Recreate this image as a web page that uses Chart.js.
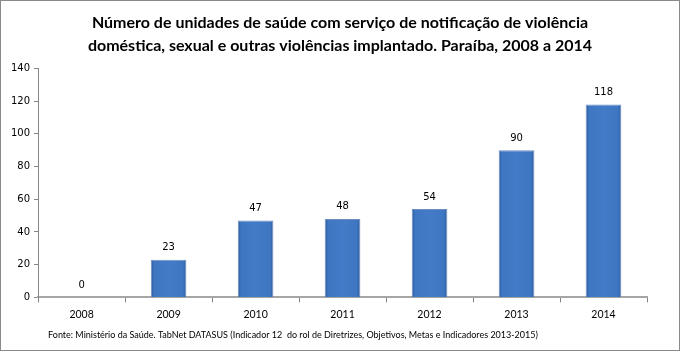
<!DOCTYPE html>
<html>
<head>
<meta charset="utf-8">
<script src="https://cdn.jsdelivr.net/npm/chart.js@4/dist/chart.umd.min.js"></script>
<style>
  html, body { margin: 0; padding: 0; background: #fff; }
  #frame { width: 678px; height: 349px; border: 1px solid #8a8a8a; position: relative; }
  canvas { display: block; }
</style>
</head>
<body>
<div id="frame"><canvas id="chart" width="678" height="349"></canvas></div>
<script>
const years = ['2008', '2009', '2010', '2011', '2012', '2013', '2014'];
const unidades = [0, 23, 47, 48, 54, 90, 118];
const titleLines = [
  'Número de unidades de saúde com serviço de notificação de violência',
  'doméstica, sexual e outras violências implantado. Paraíba, 2008 a 2014'
];
const fonte = 'Fonte: Ministério da Saúde. TabNet DATASUS (Indicador 12  do rol de Diretrizes, Objetivos, Metas e Indicadores 2013-2015)';

// bevel-ish horizontal gradient for each bar
function barFill(ctx) {
  const chart = ctx.chart;
  const x = chart.scales.x;
  if (!chart.chartArea || !x || ctx.dataIndex === undefined) return '#4279c6';
  const cx = x.getPixelForValue(ctx.dataIndex);
  if (!isFinite(cx)) return '#4279c6';
  const half = 18;
  const g = chart.ctx.createLinearGradient(cx - half, 0, cx + half, 0);
  g.addColorStop(0, '#2a5896');
  g.addColorStop(0.1, '#3f76c2');
  g.addColorStop(0.5, '#447bc8');
  g.addColorStop(0.9, '#3f76c2');
  g.addColorStop(1, '#2a5896');
  return g;
}

const valueLabels = {
  id: 'valueLabels',
  afterDatasetsDraw(chart) {
    const c = chart.ctx;
    const meta = chart.getDatasetMeta(0);
    c.save();
    c.font = '10px "DejaVu Sans"';
    c.fillStyle = '#000';
    c.textAlign = 'center';
    c.textBaseline = 'middle';
    meta.data.forEach((bar, i) => {
      c.fillText(String(unidades[i]), bar.x, bar.y - 12);
    });
    c.restore();
  }
};

// source note under the axis, starting a little right of the y axis
const sourceNote = {
  id: 'sourceNote',
  afterDraw(chart) {
    const c = chart.ctx;
    c.save();
    c.font = '9px Lato';
    c.fillStyle = '#000';
    c.textAlign = 'left';
    c.textBaseline = 'middle';
    c.fillText(fonte, chart.chartArea.left + 10, chart.height - 15);
    c.restore();
  }
};

new Chart(document.getElementById('chart'), {
  type: 'bar',
  data: {
    labels: years,
    datasets: [{
      data: unidades,
      backgroundColor: barFill,
      borderColor: '#6f8fbf',
      borderWidth: { top: 1, left: 1, right: 1, bottom: 0 },
      categoryPercentage: 1,
      barPercentage: 0.41
    }]
  },
  options: {
    responsive: false,
    animation: false,
    layout: { padding: { left: 6, right: 6, top: 0, bottom: 23 } },
    plugins: {
      legend: { display: false },
      tooltip: { enabled: false },
      title: {
        display: true,
        text: titleLines,
        color: '#000',
        font: { family: 'Lato', size: 16, weight: 'bold', lineHeight: 1.45 },
        padding: { top: 10, bottom: 11 }
      }
    },
    scales: {
      x: {
        grid: { display: true, drawOnChartArea: false, drawTicks: true, tickLength: 5, color: '#868686' },
        border: { color: '#a6a6a6', width: 2 },
        ticks: { color: '#000', font: { family: 'Lato', size: 10.5 }, padding: 6 }
      },
      y: {
        min: 0,
        max: 140,
        grid: { display: true, drawOnChartArea: false, drawTicks: true, tickLength: 4, color: '#868686' },
        border: { color: '#868686', width: 1 },
        ticks: { stepSize: 20, color: '#000', font: { family: 'DejaVu Sans', size: 10 }, padding: 4 }
      },
      spacer: {
        position: 'right',
        display: true,
        grid: { display: false },
        border: { display: false },
        ticks: { display: false },
        afterFit(scale) { scale.width = 26; }
      }
    }
  },
  plugins: [valueLabels, sourceNote]
});
</script>
</body>
</html>
